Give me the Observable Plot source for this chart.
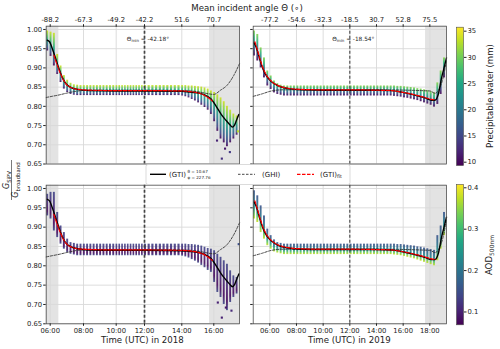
<!DOCTYPE html>
<html><head><meta charset="utf-8">
<script src="https://cdn.jsdelivr.net/npm/d3@7"></script>
<script src="https://cdn.jsdelivr.net/npm/@observablehq/plot@0.6"></script>
<style>
body{margin:0;background:#fff;}
#wrap{position:relative;width:500px;height:349px;font-family:"DejaVu Sans",sans-serif;overflow:hidden;}
#wrap svg{position:absolute;left:0;top:0;}
</style></head><body><div id="wrap"></div>
<script>
// ---------------- data ----------------
const yTicks = [0.65, 0.70, 0.75, 0.80, 0.85, 0.90, 0.95, 1.00];
const ticks2018 = [6, 8, 10, 12, 14, 16];
const ticks2019 = [6, 8, 10, 12, 14, 16, 18];
const timeLabels2018 = ["06:00", "08:00", "10:00", "12:00", "14:00", "16:00"];
const timeLabels2019 = ["06:00", "08:00", "10:00", "12:00", "14:00", "16:00", "18:00"];
const angleLabels2018 = ["-88.2", "-67.3", "-49.2", "-42.2", "51.6", "70.7"];
const angleLabels2019 = ["-77.2", "-54.6", "-32.3", "-18.5", "30.7", "52.8", "75.5"];
const thetaMin2018 = "-42.18", thetaMin2019 = "-18.54";
const noon2018 = 12, noon2019 = 12;
const shade2018 = [[5.76, 6.52], [15.73, 17.6]];
const shade2019 = [[17.68, 19.25]];
const pwTicks = [10, 15, 20, 25, 30, 35];
const aodTicks = [0.1, 0.2, 0.3, 0.4];
const pwDomain = [9.37, 35.76];
const aodDomain = [0.069, 0.408];

// GTI (black), fit (red dashed), GHI (grey dashed): [time h, ratio]
const gti2018 = [[5.82,0.972],[5.96,0.968],[6.16,0.946],[6.36,0.920],[6.56,0.894],[6.76,0.872],[6.96,0.858],[7.26,0.849],[7.66,0.844],[8.3,0.841],[10,0.840],[12,0.840],[14,0.839],[14.5,0.837],[14.8,0.836],[15.2,0.833],[15.45,0.829],[15.83,0.819],[16.15,0.800],[16.46,0.779],[16.77,0.763],[17.0,0.752],[17.15,0.746],[17.3,0.752],[17.45,0.768],[17.56,0.779]];
const fit2018 = [[6.22,0.933],[6.4,0.910],[6.6,0.887],[6.8,0.868],[7.0,0.856],[7.3,0.848],[7.7,0.844],[8.5,0.842],[10,0.841],[12,0.841],[14,0.840],[14.6,0.838],[15.0,0.835],[15.4,0.829],[15.7,0.821],[15.9,0.814]];
const ghi2018 = [[5.76,0.823],[6.1,0.826],[6.46,0.829],[7.06,0.835],[7.66,0.840],[8.5,0.842],[10,0.842],[12,0.842],[14,0.841],[15.0,0.838],[15.5,0.834],[16.0,0.831],[16.42,0.842],[16.83,0.855],[17.25,0.881],[17.6,0.911]];
const gti2019 = [[4.83,0.965],[5.0,0.952],[5.25,0.922],[5.5,0.896],[5.75,0.879],[6.13,0.864],[6.63,0.853],[7.38,0.846],[8.38,0.843],[10,0.842],[12,0.842],[14,0.842],[15.13,0.841],[15.88,0.837],[16.88,0.829],[17.63,0.822],[18.13,0.816],[18.38,0.816],[18.63,0.831],[18.88,0.874],[19.13,0.909],[19.25,0.926]];
const fit2019 = [[4.88,0.968],[5.0,0.955],[5.25,0.925],[5.5,0.899],[5.75,0.881],[6.13,0.865],[6.63,0.854],[7.38,0.847],[8.38,0.844],[10,0.843],[12,0.843],[14,0.842],[15.13,0.841],[15.88,0.837],[16.88,0.830],[17.63,0.823],[18.13,0.818],[18.4,0.817]];
const ghi2019 = [[4.76,0.826],[5.38,0.832],[6.13,0.840],[7.0,0.843],[10,0.843],[14,0.843],[18.0,0.840],[18.4,0.834],[18.7,0.845],[19.0,0.875],[19.25,0.920]];

// scatter columns: time, and lower / upper envelope of the points in each column
const colT2018 = [5.85,6.05,6.25,6.45,6.65,6.85,7.05,7.25,7.45,7.65,7.85,8.05,8.25,8.45,8.65,8.85,9.05,9.25,9.45,9.65,9.85,10.05,10.25,10.45,10.65,10.85,11.05,11.25,11.45,11.65,11.85,12.05,12.25,12.45,12.65,12.85,13.05,13.25,13.45,13.65,13.85,14.05,14.25,14.45,14.65,14.85,15.05,15.25,15.45,15.65,15.85,16.05,16.25,16.45,16.65,16.85,17.05,17.25,17.45];
const pwHi2018 = [0.996,0.993,0.990,0.935,0.905,0.880,0.868,0.860,0.856,0.855,0.854,0.854,0.854,0.854,0.854,0.854,0.854,0.854,0.854,0.854,0.854,0.854,0.854,0.854,0.854,0.854,0.854,0.854,0.854,0.854,0.854,0.854,0.854,0.854,0.854,0.854,0.854,0.854,0.854,0.854,0.854,0.854,0.854,0.853,0.853,0.852,0.851,0.850,0.848,0.845,0.840,0.836,0.830,0.822,0.812,0.800,0.790,0.780,0.775];
const pwLo2018 = [0.944,0.930,0.905,0.883,0.862,0.845,0.836,0.831,0.829,0.828,0.828,0.828,0.828,0.828,0.828,0.828,0.828,0.828,0.828,0.828,0.828,0.828,0.828,0.828,0.828,0.828,0.828,0.828,0.828,0.828,0.828,0.828,0.828,0.828,0.828,0.828,0.828,0.828,0.828,0.828,0.828,0.827,0.825,0.822,0.818,0.814,0.809,0.803,0.797,0.790,0.779,0.760,0.735,0.715,0.705,0.695,0.705,0.715,0.725];
const aodHi2018 = [0.985,0.990,0.990,0.938,0.903,0.886,0.869,0.860,0.858,0.856,0.856,0.856,0.856,0.856,0.856,0.856,0.856,0.856,0.856,0.856,0.856,0.856,0.856,0.856,0.856,0.856,0.856,0.856,0.856,0.856,0.856,0.856,0.856,0.856,0.856,0.856,0.856,0.856,0.856,0.856,0.856,0.856,0.856,0.855,0.855,0.854,0.853,0.851,0.848,0.845,0.843,0.839,0.830,0.822,0.813,0.804,0.787,0.774,0.770];
const aodLo2018 = [0.929,0.921,0.890,0.873,0.856,0.843,0.834,0.830,0.828,0.826,0.826,0.826,0.826,0.826,0.826,0.826,0.826,0.826,0.826,0.826,0.826,0.826,0.826,0.826,0.826,0.826,0.826,0.826,0.826,0.826,0.826,0.826,0.826,0.826,0.826,0.826,0.826,0.826,0.826,0.826,0.826,0.825,0.823,0.820,0.816,0.812,0.807,0.801,0.795,0.788,0.783,0.757,0.731,0.718,0.700,0.684,0.705,0.718,0.727];
const colT2019 = [4.85,5.1,5.35,5.6,5.85,6.1,6.35,6.6,6.85,7.1,7.35,7.6,7.85,8.1,8.35,8.6,8.85,9.1,9.35,9.6,9.85,10.1,10.35,10.6,10.85,11.1,11.35,11.6,11.85,12.1,12.35,12.6,12.85,13.1,13.35,13.6,13.85,14.1,14.35,14.6,14.85,15.1,15.35,15.6,15.85,16.1,16.35,16.6,16.85,17.1,17.35,17.6,17.85,18.1,18.35,18.6,18.85,19.1];
const pwHi2019 = [0.996,0.987,0.952,0.926,0.892,0.879,0.866,0.859,0.855,0.853,0.853,0.853,0.853,0.853,0.853,0.853,0.853,0.853,0.853,0.853,0.853,0.853,0.853,0.853,0.853,0.853,0.853,0.853,0.853,0.853,0.853,0.853,0.853,0.853,0.853,0.853,0.853,0.853,0.853,0.853,0.853,0.853,0.853,0.852,0.852,0.851,0.850,0.849,0.848,0.846,0.845,0.843,0.841,0.838,0.835,0.861,0.892,0.926];
const pwLo2019 = [0.931,0.918,0.900,0.874,0.853,0.844,0.835,0.831,0.829,0.827,0.827,0.827,0.827,0.827,0.827,0.827,0.827,0.827,0.827,0.827,0.827,0.827,0.827,0.827,0.827,0.827,0.827,0.827,0.827,0.827,0.827,0.827,0.827,0.827,0.827,0.827,0.827,0.827,0.827,0.827,0.827,0.827,0.826,0.825,0.824,0.822,0.821,0.819,0.817,0.815,0.812,0.809,0.806,0.803,0.798,0.805,0.831,0.874];
const aodHi2019 = [0.994,0.981,0.955,0.929,0.895,0.878,0.867,0.860,0.858,0.856,0.856,0.856,0.856,0.856,0.856,0.856,0.856,0.856,0.856,0.856,0.856,0.856,0.856,0.856,0.856,0.856,0.856,0.856,0.856,0.856,0.856,0.856,0.856,0.856,0.856,0.856,0.856,0.856,0.856,0.856,0.856,0.856,0.856,0.855,0.855,0.854,0.853,0.852,0.851,0.849,0.848,0.846,0.844,0.842,0.840,0.878,0.903,0.938];
const aodLo2019 = [0.921,0.912,0.886,0.869,0.852,0.843,0.836,0.833,0.831,0.829,0.829,0.829,0.829,0.829,0.829,0.829,0.829,0.829,0.829,0.829,0.829,0.829,0.829,0.829,0.829,0.829,0.829,0.829,0.829,0.829,0.829,0.829,0.829,0.829,0.829,0.829,0.829,0.829,0.829,0.829,0.829,0.829,0.828,0.827,0.826,0.824,0.822,0.820,0.818,0.815,0.812,0.809,0.806,0.803,0.800,0.813,0.843,0.878];
// isolated points: [time, ratio, colour value]
const pwOut2018 = [[16.5,0.664,13],[17.0,0.681,14],[16.2,0.711,12],[16.7,0.690,11],[17.5,0.735,33]];
const aodOut2018 = [[16.5,0.666,0.10],[16.75,0.692,0.09],[17.1,0.684,0.11],[16.25,0.705,0.10],[17.55,0.856,0.15]];

// ---------------- drawing ----------------
const FONT = '"DejaVu Sans", sans-serif';
const W = 500, H = 349;
const wrap = document.getElementById("wrap");
const yDomain = [0.65, 1.0085];

function getDefs(svg) {
  let defs = d3.select(svg).select("defs");
  if (defs.empty()) defs = d3.select(svg).insert("defs", ":first-child");
  return defs;
}
function addGradient(svg, id, stops, reverse = false) {
  const g = getDefs(svg).append("linearGradient").attr("id", id)
    .attr("x1", 0).attr("x2", 0).attr("y1", reverse ? 1 : 0).attr("y2", reverse ? 0 : 1);
  stops.forEach(([o, c]) => g.append("stop").attr("offset", o).attr("stop-color", c));
}
function addStripeMask(svg, id) {
  const defs = getDefs(svg);
  const p = defs.append("pattern").attr("id", id + "p").attr("patternUnits", "userSpaceOnUse").attr("width", 6).attr("height", 2.1);
  p.append("rect").attr("width", 6).attr("height", 1.55).attr("fill", "white");
  const m = defs.append("mask").attr("id", id).attr("maskUnits", "userSpaceOnUse").attr("x", 0).attr("y", 0).attr("width", W).attr("height", H);
  m.append("rect").attr("width", W).attr("height", H).attr("fill", `url(#${id}p)`);
}

function panel(o) {
  const cols = o.times.map((t, i) => ({t, lo: o.lo[i], hi: o.hi[i]}));
  const svg = Plot.plot({
    width: W, height: H,
    marginLeft: o.L, marginRight: W - o.R, marginTop: o.T, marginBottom: H - o.B,
    style: {background: "none", fontFamily: FONT, fontSize: "6.8px", color: "#222", overflow: "visible"},
    x: {type: "linear", domain: o.xDomain, range: o.xRange},
    y: {type: "linear", domain: yDomain, range: [o.B, o.T]},
    color: {type: "linear", scheme: "viridis", domain: o.cDomain},
    marks: [
      Plot.rect(o.shade, {x1: d => d[0], x2: d => d[1], y1: () => yDomain[0], y2: () => yDomain[1], fill: "#e3e3e3"}),
      Plot.gridX(o.ticks, {stroke: "#d9d9d9", strokeOpacity: 1, strokeWidth: 0.9}),
      Plot.gridY(yTicks, {stroke: "#d9d9d9", strokeOpacity: 1, strokeWidth: 0.9}),
      Plot.rect(cols, {x1: d => d.t - o.hw, x2: d => d.t + o.hw, y1: "lo", y2: "hi", fill: `url(#${o.id})`, fillOpacity: 0.9, ariaLabel: "columns"}),
      Plot.dot(o.outliers || [], {x: d => d[0], y: d => d[1], fill: d => d[2], symbol: "square", r: 1.2}),
      Plot.ruleX([o.noon], {stroke: "#444", strokeWidth: o.noonW, strokeDasharray: "3,2"}),
      Plot.line(o.ghi, {x: d => d[0], y: d => d[1], stroke: "#333", strokeWidth: 0.9, strokeDasharray: "2.5,1.5", curve: "monotone-x"}),
      Plot.line(o.gti, {x: d => d[0], y: d => d[1], stroke: "black", strokeWidth: 1.4, curve: "monotone-x"}),
      Plot.line(o.fit, {x: d => d[0], y: d => d[1], stroke: "red", strokeWidth: 1.2, strokeDasharray: "3.5,1.5", curve: "monotone-x"}),
      Plot.frame({stroke: "#4d4d4d", strokeWidth: 0.8}),
      Plot.axisY(yTicks, {anchor: "left", tickSize: 2.5, tickPadding: 1.5, tickFormat: o.left ? (d => d.toFixed(2)) : (() => ""), label: null}),
      Plot.axisX(o.ticks, {anchor: o.top ? "top" : "bottom", tickSize: 2.5, tickPadding: 1.5, tickFormat: (d, i) => o.labels[i], label: null})
    ]
  });
  addGradient(svg, o.id, o.stops);
  addStripeMask(svg, o.id + "m");
  d3.select(svg).selectAll('g[aria-label="columns"]').attr("mask", `url(#${o.id}m)`);
  if (o.annot) {
    const x = svg.scale("x").apply(o.noon);
    const t = d3.select(svg).append("text").attr("x", x + 4).attr("y", o.T + 15)
      .attr("font-family", FONT).attr("font-size", 5.8).attr("fill", "#222");
    t.append("tspan").text("Θ");
    t.append("tspan").attr("font-size", 4).attr("dy", 1.5).text("min");
    t.append("tspan").attr("dy", -1.5).text(" = " + o.annot + "°");
  }
  wrap.appendChild(svg);
}

const x2018 = {xDomain: [5.76, 6, 8, 10, 12, 14, 16, 17.6], xRange: [45.7, 49.7, 83, 115.7, 144, 181.3, 213.3, 239], L: 45.7, R: 239, hw: 0.058};
const x2019 = {xDomain: [4.755, 19.25], xRange: [252.7, 446], L: 252.7, R: 446, hw: 0.072};
const topRow = {T: 25.7, B: 163.5}, botRow = {T: 184.7, B: 323.3};

const stopsPW18 = [[0, "#d2e21b"], [0.2, "#7ad151"], [0.45, "#22a884"], [0.7, "#2c728e"], [0.88, "#414487"], [1, "#440154"]];
const stopsPW19 = [[0, "#86d549"], [0.25, "#35b779"], [0.5, "#25858e"], [0.75, "#3e4a89"], [1, "#440154"]];
const stopsAOD18 = [[0, "#414487"], [0.4, "#472c7a"], [0.8, "#46085c"], [1, "#3e4a89"]];
const stopsAOD19 = [[0, "#3b528b"], [0.35, "#2c728e"], [0.6, "#21918c"], [0.8, "#5ec962"], [1, "#c8e020"]];

panel({...x2018, ...topRow, id: "gPW18", stops: stopsPW18, times: colT2018, lo: pwLo2018, hi: pwHi2018, outliers: pwOut2018, cDomain: pwDomain,
  shade: shade2018, ticks: ticks2018, labels: angleLabels2018, top: true, left: true, noon: noon2018, noonW: 1.7, gti: gti2018, fit: fit2018, ghi: ghi2018, annot: thetaMin2018});
panel({...x2019, ...topRow, id: "gPW19", stops: stopsPW19, times: colT2019, lo: pwLo2019, hi: pwHi2019, cDomain: pwDomain,
  shade: shade2019, ticks: ticks2019, labels: angleLabels2019, top: true, left: false, noon: noon2019, noonW: 1.1, gti: gti2019, fit: fit2019, ghi: ghi2019, annot: thetaMin2019});
panel({...x2018, ...botRow, id: "gAOD18", stops: stopsAOD18, times: colT2018, lo: aodLo2018, hi: aodHi2018, outliers: aodOut2018, cDomain: aodDomain,
  shade: shade2018, ticks: ticks2018, labels: timeLabels2018, top: false, left: true, noon: noon2018, noonW: 1.7, gti: gti2018, fit: fit2018, ghi: ghi2018});
panel({...x2019, ...botRow, id: "gAOD19", stops: stopsAOD19, times: colT2019, lo: aodLo2019, hi: aodHi2019, cDomain: aodDomain,
  shade: shade2019, ticks: ticks2019, labels: timeLabels2019, top: false, left: false, noon: noon2019, noonW: 1.1, gti: gti2019, fit: fit2019, ghi: ghi2019});

// colour bars
const virStops = d3.range(0, 1.0001, 0.1).map(t => [t, d3.interpolateViridis(t)]);
function colorbar(o) {
  const svg = Plot.plot({
    width: W, height: H, marginLeft: 456, marginRight: W - 463, marginTop: o.T, marginBottom: H - o.B,
    style: {background: "none", fontFamily: FONT, fontSize: "6.8px", color: "#222", overflow: "visible"},
    y: {type: "linear", domain: o.domain, range: [o.B, o.T]},
    marks: [
      Plot.frame({fill: `url(#${o.id})`, stroke: "#4d4d4d", strokeWidth: 0.6}),
      Plot.axisY(o.ticks, {anchor: "right", tickSize: 2.5, tickPadding: 1.5, tickFormat: o.fmt, label: null})
    ]
  });
  addGradient(svg, o.id, virStops, true);
  wrap.appendChild(svg);
}
colorbar({id: "cbPW", domain: pwDomain, ticks: pwTicks, fmt: d => String(d), T: 26.7, B: 165});
colorbar({id: "cbAOD", domain: aodDomain, ticks: aodTicks, fmt: d => d.toFixed(1), T: 184, B: 324.3});

// titles, legend, y label
const ov = d3.create("svg").attr("width", W).attr("height", H).attr("font-family", FONT).attr("fill", "#222");
const txt = (x, y, s, size, anchor = "middle") => ov.append("text").attr("x", x).attr("y", y).attr("font-size", size).attr("text-anchor", anchor).text(s);
txt(247, 11, "Mean incident angle Θ (∘)", 8.6);
txt(142.4, 343, "Time (UTC) in 2018", 8.6);
txt(349.3, 343, "Time (UTC) in 2019", 8.6);
ov.append("text").attr("transform", "translate(493,96) rotate(-90)").attr("text-anchor", "middle").attr("font-size", 8.6).text("Precipitable water (mm)");
const aod = ov.append("text").attr("transform", "translate(492,255) rotate(-90)").attr("text-anchor", "middle").attr("font-size", 8.6);
aod.append("tspan").text("AOD");
aod.append("tspan").attr("font-size", 6).attr("dy", 2).text("500nm");

// y label fraction
const yl = ov.append("g").attr("transform", "translate(11.5,180) rotate(-90)");
const num = yl.append("text").attr("x", 0).attr("y", -2.2).attr("text-anchor", "middle").attr("font-size", 8);
num.append("tspan").attr("font-style", "italic").text("G");
num.append("tspan").attr("font-size", 5.4).attr("dy", 1.6).text("SiPV");
yl.append("line").attr("x1", -20).attr("x2", 20).attr("y1", 0).attr("y2", 0).attr("stroke", "#222").attr("stroke-width", 0.6);
const den = yl.append("text").attr("x", 0).attr("y", 6.8).attr("text-anchor", "middle").attr("font-size", 8);
den.append("tspan").attr("font-style", "italic").text("G");
den.append("tspan").attr("font-size", 5.4).attr("dy", 1.6).text("broadband");

// legend
const lg = ov.append("g");
lg.append("rect").attr("x", 146).attr("y", 164.5).attr("width", 204).attr("height", 20).attr("rx", 2)
  .attr("fill", "white").attr("fill-opacity", 0.9).attr("stroke", "#cccccc").attr("stroke-width", 0.7);
const ly = 174.3;
lg.append("line").attr("x1", 150).attr("x2", 166).attr("y1", ly).attr("y2", ly).attr("stroke", "black").attr("stroke-width", 1.4);
txt(169, ly + 2.5, "(GTI)", 7, "start");
txt(187.5, ly - 1.6, "θ = 10.67", 4.1, "start");
txt(187.5, ly + 4.6, "φ = 227.76", 4.1, "start");
lg.append("line").attr("x1", 238).attr("x2", 255).attr("y1", ly).attr("y2", ly).attr("stroke", "#333").attr("stroke-width", 0.9).attr("stroke-dasharray", "2.5,1.5");
txt(262, ly + 2.5, "(GHI)", 7, "start");
lg.append("line").attr("x1", 297).attr("x2", 314).attr("y1", ly).attr("y2", ly).attr("stroke", "red").attr("stroke-width", 1.2).attr("stroke-dasharray", "3.5,1.5");
const fitT = ov.append("text").attr("x", 320).attr("y", ly + 2.5).attr("font-size", 7);
fitT.append("tspan").text("(GTI)");
fitT.append("tspan").attr("font-size", 4.8).attr("dy", 1.5).text("fit");
wrap.appendChild(ov.node());
</script></body></html>
